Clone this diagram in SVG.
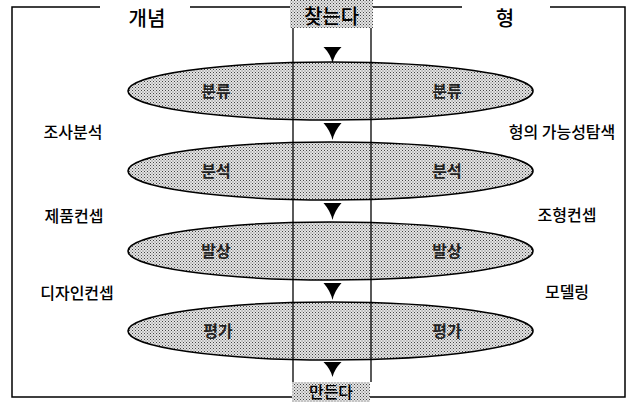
<svg xmlns="http://www.w3.org/2000/svg" width="633" height="402" viewBox="0 0 633 402">
  <defs>
    <pattern id="dots" width="3" height="3" patternUnits="userSpaceOnUse">
      <rect width="3" height="3" fill="#e4e4e4"/>
      <rect x="0" y="0" width="1" height="1" fill="#444"/>
      <rect x="1.5" y="1.5" width="1" height="1" fill="#666"/>
    </pattern>
    <style>
      .frame { fill: none; stroke: #000; stroke-width: 1.5; }
      .ell { fill: url(#dots); stroke: #000; stroke-width: 1.6; }
      .vline { stroke: #000; stroke-width: 1.3; }
      .arrow { fill: #000; }
      .head { font-family: "Noto Sans CJK KR", "Noto Sans", sans-serif; font-size: 20px; font-weight: 500; fill: #000; text-anchor: middle; }
      .lbl { font-family: "Noto Sans CJK KR", "Noto Sans", sans-serif; font-size: 16px; font-weight: 700; fill: #222; text-anchor: middle; }
      .side { font-family: "Noto Sans CJK KR", "Noto Sans", sans-serif; font-size: 16px; font-weight: 500; fill: #000; text-anchor: middle; }
      .tag { fill: url(#dots); }
    </style>
  </defs>

  <g id="frame">
    <polyline class="frame" points="100,7 12,7 12,397 292,397"/>
    <line class="frame" x1="190" y1="7" x2="290" y2="7"/>
    <line class="frame" x1="373" y1="7" x2="462" y2="7"/>
    <polyline class="frame" points="550,7 625,7 625,397 370,397"/>
  </g>

  <g id="header-concept"><text class="head" x="147" y="26">개념</text></g>
  <g id="header-form"><text class="head" x="505" y="26">형</text></g>
  <g id="header-find">
    <rect class="tag" x="290" y="0" width="83" height="28"/>
    <text class="head" x="331.5" y="24">찾는다</text>
  </g>

  <g id="stage-1">
    <ellipse class="ell" cx="330.5" cy="91" rx="202.5" ry="29"/>
    <text class="lbl" x="216" y="97">분류</text>
    <text class="lbl" x="447" y="97">분류</text>
  </g>
  <g id="stage-2">
    <ellipse class="ell" cx="330.5" cy="171" rx="202.5" ry="29"/>
    <text class="lbl" x="216" y="177">분석</text>
    <text class="lbl" x="447" y="177">분석</text>
  </g>
  <g id="stage-3">
    <ellipse class="ell" cx="330.5" cy="251" rx="202.5" ry="29"/>
    <text class="lbl" x="216" y="257">발상</text>
    <text class="lbl" x="447" y="257">발상</text>
  </g>
  <g id="stage-4">
    <ellipse class="ell" cx="330.5" cy="331" rx="202.5" ry="29"/>
    <text class="lbl" x="218" y="337">평가</text>
    <text class="lbl" x="447" y="337">평가</text>
  </g>

  <g id="left-labels">
    <text class="side" x="73" y="138">조사분석</text>
    <text class="side" x="74" y="222">제품컨셉</text>
    <text class="side" x="77" y="299">디자인컨셉</text>
  </g>
  <g id="right-labels">
    <text class="side" x="562" y="138">형의 가능성탐색</text>
    <text class="side" x="567" y="221">조형컨셉</text>
    <text class="side" x="567" y="298">모델링</text>
  </g>

  <g id="footer-make">
    <rect class="tag" x="292" y="382" width="78" height="20"/>
    <text class="head" x="331" y="398" style="font-size:16px">만든다</text>
  </g>

  <g id="connectors">
    <line class="vline" x1="293" y1="28" x2="293" y2="382"/>
    <line class="vline" x1="371" y1="28" x2="371" y2="382"/>
    <path class="arrow" d="M323.5,47 H341.5 Q334.5,54 332.5,63 Q330.5,54 323.5,47 Z"/>
    <path class="arrow" d="M323.5,123 H341.5 Q334.5,131 332.5,140 Q330.5,131 323.5,123 Z"/>
    <path class="arrow" d="M323.5,203 H341.5 Q334.5,211 332.5,220 Q330.5,211 323.5,203 Z"/>
    <path class="arrow" d="M323.5,283 H341.5 Q334.5,291 332.5,300 Q330.5,291 323.5,283 Z"/>
    <path class="arrow" d="M323.5,362 H341.5 Q334.5,369 332.5,377 Q330.5,369 323.5,362 Z"/>
  </g>
</svg>
